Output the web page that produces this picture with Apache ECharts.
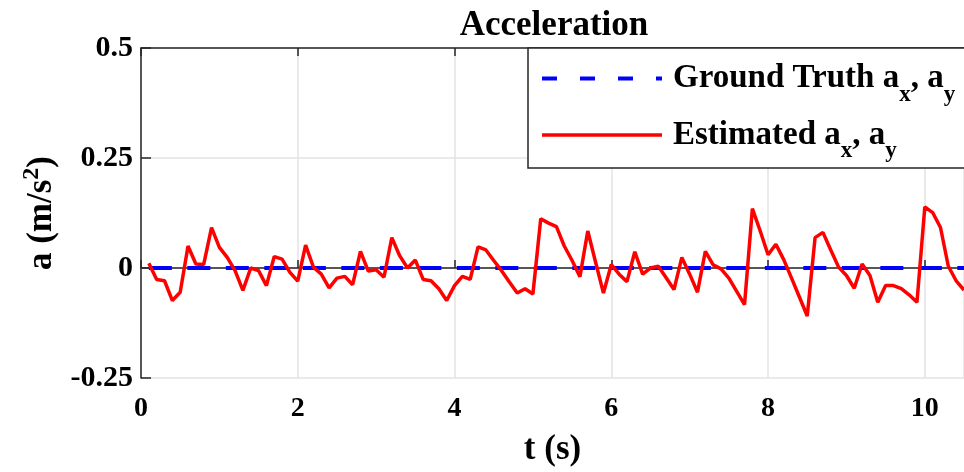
<!DOCTYPE html>
<html>
<head>
<meta charset="utf-8">
<script src="https://cdn.jsdelivr.net/npm/echarts@6/dist/echarts.min.js"></script>
<style>
  html, body { margin: 0; padding: 0; background: #fff; }
  #chart { width: 964px; height: 472px; }
</style>
</head>
<body>
<div id="chart"></div>
<script>
// time stamps (s)
const timeS = [
  0.1, 0.2, 0.3, 0.4, 0.5, 0.6, 0.7, 0.8, 0.9, 1.0,
  1.1, 1.2, 1.3, 1.4, 1.5, 1.6, 1.7, 1.8, 1.9, 2.0,
  2.1, 2.2, 2.3, 2.4, 2.5, 2.6, 2.7, 2.8, 2.9, 3.0,
  3.1, 3.2, 3.3, 3.4, 3.5, 3.6, 3.7, 3.8, 3.9, 4.0,
  4.1, 4.2, 4.3, 4.4, 4.5, 4.6, 4.7, 4.8, 4.9, 5.0,
  5.1, 5.2, 5.3, 5.4, 5.5, 5.6, 5.7, 5.8, 5.9, 6.0,
  6.1, 6.2, 6.3, 6.4, 6.5, 6.6, 6.7, 6.8, 6.9, 7.0,
  7.1, 7.2, 7.3, 7.4, 7.5, 7.6, 7.7, 7.8, 7.9, 8.0,
  8.1, 8.2, 8.3, 8.4, 8.5, 8.6, 8.7, 8.8, 8.9, 9.0,
  9.1, 9.2, 9.3, 9.4, 9.5, 9.6, 9.7, 9.8, 9.9, 10.0,
  10.1, 10.2, 10.3, 10.4, 10.5
];
// ground truth acceleration (m/s^2)
const groundTruth = [
  0, 0, 0, 0, 0, 0, 0, 0, 0, 0,
  0, 0, 0, 0, 0, 0, 0, 0, 0, 0,
  0, 0, 0, 0, 0, 0, 0, 0, 0, 0,
  0, 0, 0, 0, 0, 0, 0, 0, 0, 0,
  0, 0, 0, 0, 0, 0, 0, 0, 0, 0,
  0, 0, 0, 0, 0, 0, 0, 0, 0, 0,
  0, 0, 0, 0, 0, 0, 0, 0, 0, 0,
  0, 0, 0, 0, 0, 0, 0, 0, 0, 0,
  0, 0, 0, 0, 0, 0, 0, 0, 0, 0,
  0, 0, 0, 0, 0, 0, 0, 0, 0, 0,
  0, 0, 0, 0, 0
];
// estimated acceleration (m/s^2)
const estimated = [
  0.011, -0.026, -0.029, -0.074, -0.055, 0.050, 0.009, 0.008, 0.092, 0.047,
  0.024, -0.006, -0.051, 0.000, -0.006, -0.040, 0.026, 0.020, -0.010, -0.030,
  0.052, 0.002, -0.014, -0.045, -0.023, -0.019, -0.038, 0.038, -0.007, -0.004,
  -0.021, 0.069, 0.028, 0.000, 0.018, -0.026, -0.029, -0.047, -0.074, -0.040,
  -0.019, -0.026, 0.048, 0.041, 0.017, -0.006, -0.032, -0.057, -0.047, -0.059,
  0.112, 0.102, 0.094, 0.050, 0.017, -0.020, 0.084, 0.013, -0.057, 0.008,
  -0.014, -0.031, 0.037, -0.014, 0.000, 0.004, -0.022, -0.049, 0.024, -0.014,
  -0.055, 0.038, 0.007, -0.002, -0.023, -0.053, -0.083, 0.135, 0.084, 0.030,
  0.054, 0.019, -0.023, -0.066, -0.109, 0.069, 0.081, 0.041, 0.002, -0.017,
  -0.046, 0.009, -0.017, -0.078, -0.040, -0.040, -0.047, -0.061, -0.078, 0.139,
  0.126, 0.092, 0.004, -0.029, -0.050
];

const serif = '"Liberation Serif", "Times New Roman", serif';
const axisColor = '#262626';

const chart = echarts.init(document.getElementById('chart'));

const option = {
  backgroundColor: '#fff',
  animation: false,
  title: {
    text: 'Acceleration',
    left: 554,
    top: 8,
    padding: 0,
    textAlign: 'center',
    textStyle: { fontFamily: serif, fontWeight: 'bold', fontSize: 35, color: '#000' }
  },
  legend: {
    orient: 'vertical',
    left: 528,
    top: 48,
    padding: [14, 30, 5, 12],
    itemWidth: 120,
    itemHeight: 20,
    itemGap: 12,
    borderColor: axisColor,
    borderWidth: 1.5,
    backgroundColor: '#fff',
    itemStyle: { opacity: 0 },
    data: [
      { name: 'gt', lineStyle: { type: [15, 23], width: 4 } },
      { name: 'est', lineStyle: { width: 3.5 } }
    ],
    formatter: function (name) {
      if (name === 'gt') return '{f|Ground Truth a}{s|x}{m|, a}{s|y}';
      return '{f|Estimated a}{s|x}{m|, a}{s|y}';
    },
    textStyle: {
      fontFamily: serif, fontWeight: 'bold', fontSize: 33, color: '#000',
      rich: {
        f: { fontFamily: serif, fontWeight: 'bold', fontSize: 33, lineHeight: 40, padding: [0, 0, 0, 6], color: '#000' },
        m: { fontFamily: serif, fontWeight: 'bold', fontSize: 33, lineHeight: 40, color: '#000' },
        s: { fontFamily: serif, fontWeight: 'bold', fontSize: 23, lineHeight: 16, verticalAlign: 'bottom', padding: [0, 0, -8, 0], color: '#000' }
      }
    }
  },
  grid: { left: 141, right: -4, top: 48, bottom: 92 },
  xAxis: [
    {
      type: 'value',
      min: 0,
      max: 10.5,
      interval: 2,
      name: 't (s)',
      nameLocation: 'middle',
      nameGap: 54,
      nameTextStyle: { fontFamily: serif, fontWeight: 'bold', fontSize: 35, color: '#000' },
      axisLine: { lineStyle: { color: axisColor, width: 1.5 } },
      axisTick: { inside: true, length: 8, lineStyle: { color: axisColor, width: 1.5 } },
      axisLabel: {
        margin: 17, showMaxLabel: false,
        fontFamily: serif, fontWeight: 'bold', fontSize: 28, color: '#000'
      },
      splitLine: { show: true, lineStyle: { color: '#e3e3e3', width: 1.5 } }
    },
    {
      type: 'value',
      position: 'top',
      min: 0,
      max: 10.5,
      interval: 2,
      axisLine: { show: true, lineStyle: { color: axisColor, width: 1.5 } },
      axisTick: { inside: true, length: 8, lineStyle: { color: axisColor, width: 1.5 } },
      axisLabel: { show: false },
      splitLine: { show: false }
    }
  ],
  yAxis: {
    type: 'value',
    min: -0.25,
    max: 0.5,
    interval: 0.25,
    name: '{a|a (m/s}{p|2}{a|)}',
    nameLocation: 'middle',
    nameGap: 77,
    nameTextStyle: {
      fontFamily: serif, fontWeight: 'bold', fontSize: 35, color: '#000',
      rich: {
        a: { fontFamily: serif, fontWeight: 'bold', fontSize: 35, lineHeight: 44, color: '#000' },
        p: { fontFamily: serif, fontWeight: 'bold', fontSize: 24, lineHeight: 22, verticalAlign: 'top', color: '#000' }
      }
    },
    axisLine: { show: true, lineStyle: { color: axisColor, width: 1.5 } },
    axisTick: { show: true, inside: true, length: 10, lineStyle: { color: axisColor, width: 1.5 } },
    axisLabel: { margin: 8, fontFamily: serif, fontWeight: 'bold', fontSize: 30, color: '#000' },
    splitLine: { show: true, lineStyle: { color: '#e3e3e3', width: 1.5 } }
  },
  series: [
    {
      name: 'gt',
      type: 'line',
      symbol: 'none',
      z: 3,
      data: timeS.map((t, i) => [t, groundTruth[i]]),
      lineStyle: { color: '#0000ff', width: 4, type: [23, 15.5] },
      itemStyle: { color: '#0000ff' }
    },
    {
      name: 'est',
      type: 'line',
      symbol: 'none',
      z: 4,
      data: timeS.map((t, i) => [t, estimated[i]]),
      lineStyle: { color: '#ff0000', width: 3.5 },
      itemStyle: { color: '#ff0000' }
    }
  ]
};

chart.setOption(option);
</script>
</body>
</html>
